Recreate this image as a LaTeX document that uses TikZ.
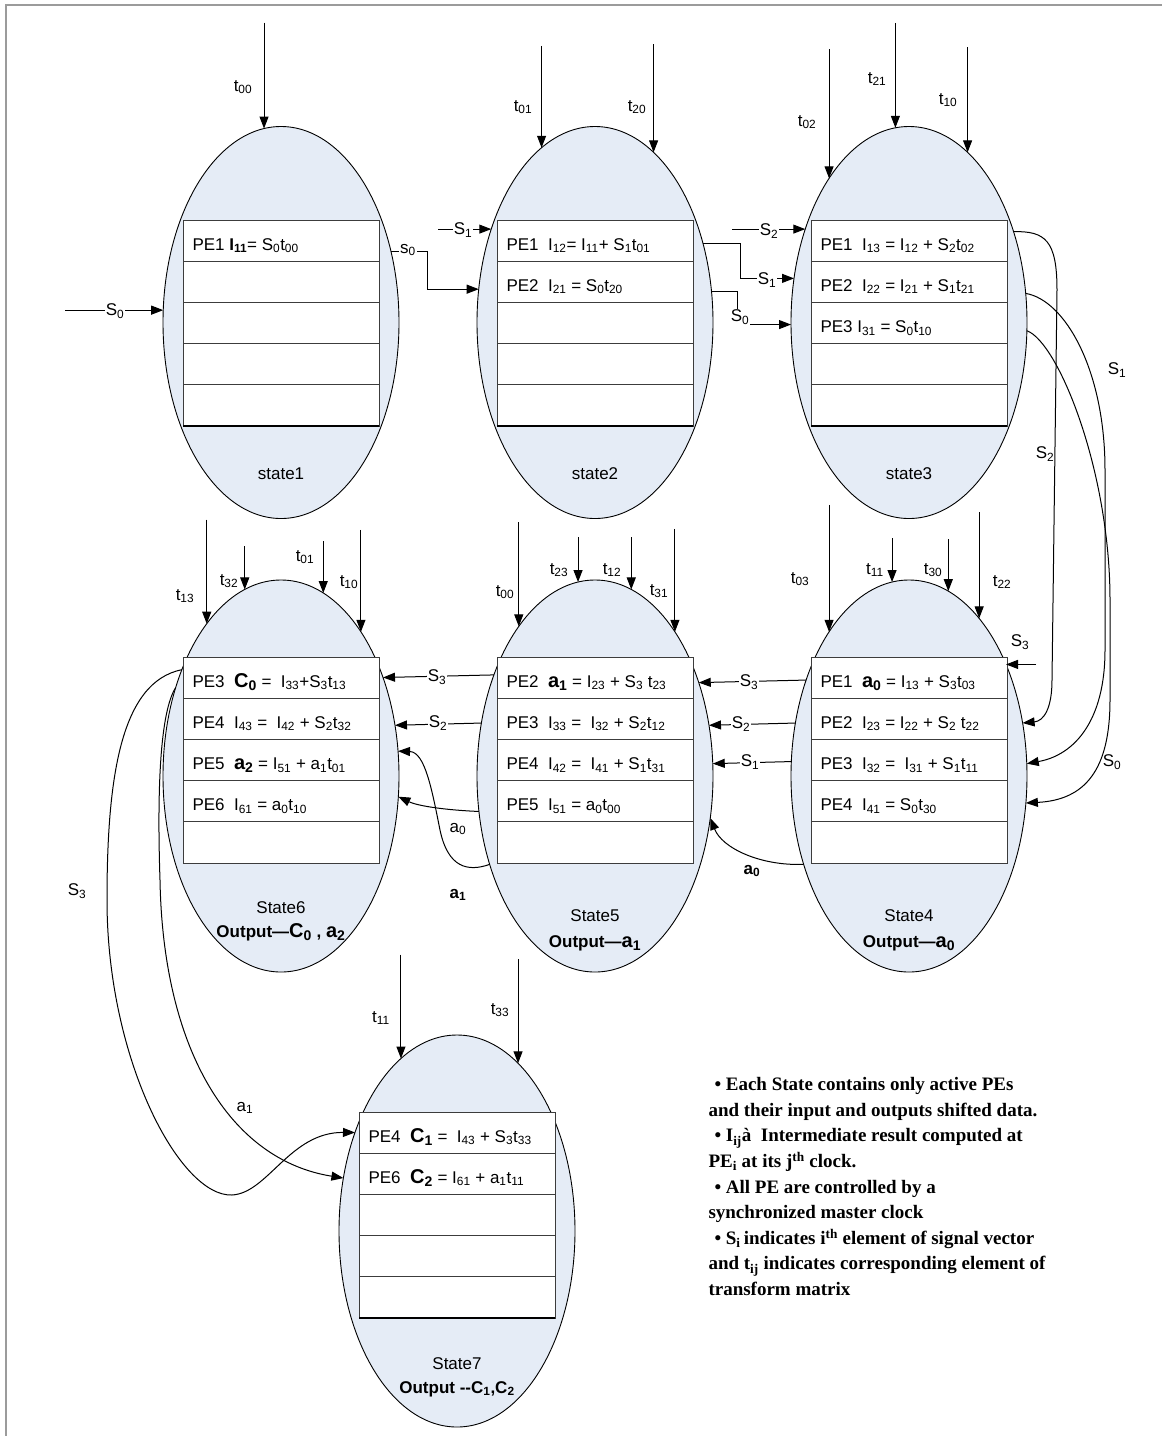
\documentclass[tikz,border=0pt]{standalone}
\usepackage{fontspec}
\setmainfont{Liberation Sans}
\newfontfamily\legendfont{Liberation Serif}
\usetikzlibrary{shapes.geometric,arrows.meta,calc}

\definecolor{ellfill}{RGB}{229,236,246}
\definecolor{rowline}{RGB}{60,60,60}
\definecolor{framegray}{RGB}{155,155,155}

\newcommand{\sbs}[1]{\textsubscript{#1}}
\newcommand{\bigbf}[1]{{\fontsize{20}{22}\selectfont\bfseries #1}}

\tikzset{every picture/.style={line width=1pt}}
\tikzset{
  stateell/.style={ellipse, draw=black, line width=0.9pt, fill=ellfill, minimum width=236pt, minimum height=392pt, inner sep=0pt, outer sep=0pt},
  pebox/.style={draw=rowline, fill=white, minimum width=196pt, minimum height=41.2pt, anchor=north west, inner sep=0pt, outer sep=0pt},
  petext/.style={anchor=west, inner xsep=9pt, inner ysep=0pt, text height=19pt, text depth=0pt, font=\fontsize{17}{20}\selectfont},
  lbl/.style={inner sep=1pt, font=\fontsize{17}{20}\selectfont},
  onl/.style={lbl, fill=white},
  statelbl/.style={anchor=base, inner sep=0pt, font=\fontsize{17}{20}\selectfont},
  arr/.style={-{Triangle[length=12pt,width=9pt]}},
  notes/.style={anchor=north west, inner sep=0pt, align=left, font=\legendfont\bfseries\fontsize{19}{25.6}\selectfont},
}

\begin{document}
\begin{tikzpicture}[x=1pt,y=1pt,yscale=-1]
\useasboundingbox (0,0) rectangle (1162,1436);
%Frame
\draw[framegray, line width=2pt] (6,1436) -- (6,5) -- (1162,5);

%Shape: Ellipse
\node[stateell] (st1) at (281,322.5) {};
\node[stateell] (st2) at (595,322.5) {};
\node[stateell] (st3) at (909,322.5) {};
\node[stateell] (st4) at (909,776) {};
\node[stateell] (st5) at (595,776) {};
\node[stateell] (st6) at (281,776) {};
\node[stateell] (st7) at (457,1231) {};

%Shape: Rectangle (PE rows)
\foreach \r in {1,...,5} \node[pebox] (s1r\r) at (183,{220+41.2*(\r-1)}) {};
\foreach \r in {1,...,5} \node[pebox] (s2r\r) at (497,{220+41.2*(\r-1)}) {};
\foreach \r in {1,...,5} \node[pebox] (s3r\r) at (811,{220+41.2*(\r-1)}) {};
\foreach \r in {1,...,5} \node[pebox] (s4r\r) at (811,{657+41.2*(\r-1)}) {};
\foreach \r in {1,...,5} \node[pebox] (s5r\r) at (497,{657+41.2*(\r-1)}) {};
\foreach \r in {1,...,5} \node[pebox] (s6r\r) at (183,{657+41.2*(\r-1)}) {};
\foreach \r in {1,...,5} \node[pebox] (s7r\r) at (359,{1112+41.2*(\r-1)}) {};
\draw[line width=2.4pt] (s1r5.south west) -- (s1r5.south east);
\draw[line width=2.4pt] (s2r5.south west) -- (s2r5.south east);
\draw[line width=2.4pt] (s3r5.south west) -- (s3r5.south east);
\draw[line width=2.4pt] (s7r5.south west) -- (s7r5.south east);

% Text Node
\node[petext] (pe11) at (s1r1.west) {PE1 \textbf{I\sbs{11}}= S\sbs{0}t\sbs{00}};
\node[petext] (pe21) at (s2r1.west) {PE1\ \ I\sbs{12}= I\sbs{11}+ S\sbs{1}t\sbs{01}};
\node[petext] (pe22) at (s2r2.west) {PE2\ \ I\sbs{21} = S\sbs{0}t\sbs{20}};
\node[petext] (pe31) at (s3r1.west) {PE1\ \ I\sbs{13} = I\sbs{12} + S\sbs{2}t\sbs{02}};
\node[petext] (pe32) at (s3r2.west) {PE2\ \ I\sbs{22} = I\sbs{21} + S\sbs{1}t\sbs{21}};
\node[petext] (pe33) at (s3r3.west) {PE3 I\sbs{31} = S\sbs{0}t\sbs{10}};
\node[petext] (pe41) at (s4r1.west) {PE1\ \ \bigbf{a\sbs{0}} = I\sbs{13} + S\sbs{3}t\sbs{03}};
\node[petext] (pe42) at (s4r2.west) {PE2\ \ I\sbs{23} = I\sbs{22} + S\sbs{2} t\sbs{22}};
\node[petext] (pe43) at (s4r3.west) {PE3\ \ I\sbs{32} =\ \ I\sbs{31} + S\sbs{1}t\sbs{11}};
\node[petext] (pe44) at (s4r4.west) {PE4\ \ I\sbs{41} = S\sbs{0}t\sbs{30}};
\node[petext] (pe51) at (s5r1.west) {PE2\ \ \bigbf{a\sbs{1}} = I\sbs{23} + S\sbs{3} t\sbs{23}};
\node[petext] (pe52) at (s5r2.west) {PE3\ \ I\sbs{33} =\ \ I\sbs{32} + S\sbs{2}t\sbs{12}};
\node[petext] (pe53) at (s5r3.west) {PE4\ \ I\sbs{42} =\ \ I\sbs{41} + S\sbs{1}t\sbs{31}};
\node[petext] (pe54) at (s5r4.west) {PE5\ \ I\sbs{51} = a\sbs{0}t\sbs{00}};
\node[petext] (pe61) at (s6r1.west) {PE3\ \ \bigbf{C\sbs{0}} =\ \ I\sbs{33}+S\sbs{3}t\sbs{13}};
\node[petext] (pe62) at (s6r2.west) {PE4\ \ I\sbs{43} =\ \ I\sbs{42} + S\sbs{2}t\sbs{32}};
\node[petext] (pe63) at (s6r3.west) {PE5\ \ \bigbf{a\sbs{2}} = I\sbs{51} + a\sbs{1}t\sbs{01}};
\node[petext] (pe64) at (s6r4.west) {PE6\ \ I\sbs{61} = a\sbs{0}t\sbs{10}};
\node[petext] (pe71) at (s7r1.west) {PE4\ \ \bigbf{C\sbs{1}} =\ \ I\sbs{43} + S\sbs{3}t\sbs{33}};
\node[petext] (pe72) at (s7r2.west) {PE6\ \ \bigbf{C\sbs{2}} = I\sbs{61} + a\sbs{1}t\sbs{11}};

% Text Node (state names)
\node[statelbl] (lb1) at (281,479) {state1};
\node[statelbl] (lb2) at (595,479) {state2};
\node[statelbl] (lb3) at (909,479) {state3};
\node[statelbl] (lb4) at (909,921) {State4};
\node[statelbl] (out4) at (909,947) {\textbf{Output---\bigbf{a\sbs{0}}}};
\node[statelbl] (lb5) at (595,921) {State5};
\node[statelbl] (out5) at (595,947) {\textbf{Output---\bigbf{a\sbs{1}}}};
\node[statelbl] (lb6) at (281,913) {State6};
\node[statelbl] (out6) at (281,937) {\textbf{Output---\bigbf{C\sbs{0}} , \bigbf{a\sbs{2}}}};
\node[statelbl] (lb7) at (457,1369) {State7};
\node[statelbl] (out7) at (457,1393) {\textbf{Output -{}-C\sbs{1},C\sbs{2}}};

%Straight Lines (state1)
\draw[arr] ($(st1.95)+(0,-106)$) -- (st1.95);
\node[lbl] (t00a) at (243,87) {t\sbs{00}};
\draw[arr] ($(st1.174.9)+(-98,0)$) -- (st1.174.9);
\node[onl] (s0a) at (115,311) {S\sbs{0}};
\draw[arr] (st1.33.9) -- ++(37,0) |- (st2.164.9);
\node[onl] (s0b) at (408,250) {s\sbs{0}};

%Straight Lines (state2)
\draw[arr] ($(st2.107.6)+(0,-102)$) -- (st2.107.6);
\draw[arr] ($(st2.71.2)+(0,-108)$) -- (st2.71.2);
\node[lbl] (t01a) at (523,107) {t\sbs{01}};
\node[lbl] (t20a) at (637,107) {t\sbs{20}};
\draw[arr] ($(st2.138.4)+(-53,0)$) -- (st2.138.4);
\node[onl] (s1a) at (463,230) {S\sbs{1}};
\draw[arr] (st2.36) -- ++(37,0) |- (st3.159.8);
\node[onl] (s1b) at (767,280) {S\sbs{1}};
\draw[arr] (st2.15.6) -- ++(26,0) |- (st3.181.7);
\node[onl] (s0c) at (740,317) {S\sbs{0}};

%Straight Lines (state3)
\draw[arr] ($(st3.138.4)+(-73,0)$) -- (st3.138.4);
\node[onl] (s2a) at (769,231) {S\sbs{2}};
\draw[arr] ($(st3.119.6)+(0,-129)$) -- (st3.119.6);
\draw[arr] ($(st3.94.7)+(0,-105)$) -- (st3.94.7);
\draw[arr] ($(st3.71.2)+(0,-105)$) -- (st3.71.2);
\node[lbl] (t02a) at (807,122) {t\sbs{02}};
\node[lbl] (t21a) at (877,79) {t\sbs{21}};
\node[lbl] (t10a) at (948,100) {t\sbs{10}};

%Curve Lines (state3 to state4)
\draw[arr] (st3.41.2) .. controls (1045,231) and (1057,240) .. (1057,290) -- (1052,680) .. controls (1052,708) and (1044,721) .. (st4.25.5);
\draw[arr] (st3.14.2) .. controls (1065,300) and (1105,370) .. (1105,470) -- (1105,650) .. controls (1105,720) and (1075,755) .. (st4.6.3);
\draw[arr] (st3.356.8) .. controls (1058,342) and (1110,470) .. (1110,600) -- (1110,700) .. controls (1110,770) and (1085,800) .. (st4.347.9);
\node[lbl] (s1c) at (1117,370) {S\sbs{1}};
\node[lbl] (s2c) at (1045,454) {S\sbs{2}};
\node[lbl] (s0d) at (1112,762) {S\sbs{0}};

%Straight Lines (state4)
\draw[arr] ($(st4.49.5)+(30,0)$) -- (st4.49.5);
\node[lbl] (s3a) at (1020,642) {S\sbs{3}};
\draw[arr] ($(st4.119.6)+(0,-127)$) -- (st4.119.6);
\draw[arr] ($(st4.95.9)+(0,-44)$) -- (st4.95.9);
\draw[arr] ($(st4.78.1)+(0,-52)$) -- (st4.78.1);
\draw[arr] ($(st4.66.5)+(0,-106)$) -- (st4.66.5);
\node[lbl] (t03a) at (800,579) {t\sbs{03}};
\node[lbl] (t11a) at (875,570) {t\sbs{11}};
\node[lbl] (t30a) at (933,570) {t\sbs{30}};
\node[lbl] (t22a) at (1002,582) {t\sbs{22}};

%Straight Lines (state4 to state5)
\draw[arr] (st4.137.8) -- (st5.42.2);
\draw[arr] (st4.155.9) -- (st5.24.1);
\draw[arr] (st4.173.7) -- (st5.6.3);
\node[onl] (s3b) at (749,682) {S\sbs{3}};
\node[onl] (s2b) at (741,724) {S\sbs{2}};
\node[onl] (s1d) at (750,762) {S\sbs{1}};
\draw[arr] (st4.220.3) .. controls (760,866) and (722,848) .. (st5.340.4);
\node[lbl] (a0a) at (752,871) {\textbf{a\sbs{0}}};

%Straight Lines (state5)
\draw[arr] ($(st5.117.4)+(0,-104)$) -- (st5.117.4);
\draw[arr] ($(st5.95.6)+(0,-45)$) -- (st5.95.6);
\draw[arr] ($(st5.79.4)+(0,-52)$) -- (st5.79.4);
\draw[arr] ($(st5.61.0)+(0,-103)$) -- (st5.61.0);
\node[lbl] (t00b) at (505,592) {t\sbs{00}};
\node[lbl] (t23a) at (559,570) {t\sbs{23}};
\node[lbl] (t12a) at (612,570) {t\sbs{12}};
\node[lbl] (t31a) at (659,591) {t\sbs{31}};

%Straight Lines (state5 to state6)
\draw[arr] (st5.135.8) -- (st6.44.2);
\draw[arr] (st5.155.4) -- (st6.24.6);
\node[onl] (s3c) at (437,677) {S\sbs{3}};
\node[onl] (s2d) at (438,723) {S\sbs{2}};
\draw[arr] (st5.197.2) .. controls (445,810) and (418,806) .. (st6.350.8);
\draw[arr] (st5.220.65) .. controls (468,872) and (448,868) .. (440,830) .. controls (432,790) and (425,752) .. (st6.12.5);
\node[lbl] (a0b) at (458,829) {a\sbs{0}};
\node[lbl] (a1a) at (458,895) {\textbf{a\sbs{1}}};

%Straight Lines (state6)
\draw[arr] ($(st6.116.9)+(0,-104)$) -- (st6.116.9);
\draw[arr] ($(st6.101.2)+(0,-43)$) -- (st6.101.2);
\draw[arr] ($(st6.77.8)+(0,-52)$) -- (st6.77.8);
\draw[arr] ($(st6.61.5)+(0,-102)$) -- (st6.61.5);
\node[lbl] (t13a) at (185,596) {t\sbs{13}};
\node[lbl] (t32a) at (229,581) {t\sbs{32}};
\node[lbl] (t01b) at (305,557) {t\sbs{01}};
\node[lbl] (t10b) at (349,582) {t\sbs{10}};

%Curve Lines (state6 to state7)
\draw[arr] (st6.133.9) .. controls (120,682) and (107,780) .. (107,900) .. controls (107,1060) and (180,1197) .. (232,1195) .. controls (268,1193) and (290,1132) .. (st7.136.6);
\draw[arr] (st6.140) .. controls (160,712) and (157,790) .. (160,880) .. controls (163,1050) and (230,1160) .. (st7.155.9);
\node[lbl] (s3d) at (77,891) {S\sbs{3}};
\node[lbl] (a1b) at (245,1108) {a\sbs{1}};

%Straight Lines (state7)
\draw[arr] ($(st7.108.4)+(0,-104)$) -- (st7.108.4);
\draw[arr] ($(st7.70.4)+(0,-104)$) -- (st7.70.4);
\node[lbl] (t11b) at (381,1018) {t\sbs{11}};
\node[lbl] (t33a) at (500,1010) {t\sbs{33}};

% Text Node (notes)
\node[notes] (notes) at (708,1077) {\hspace{6pt}• Each State contains only active PEs\\
and their input and outputs shifted data.\\
\hspace{6pt}• I\textsubscript{ij}à\ \ Intermediate result computed at\\
PE\textsubscript{i} at its j\textsuperscript{th} clock.\\
\hspace{6pt}• All PE are controlled by a\\
synchronized master clock\\
\hspace{6pt}• S\textsubscript{i}\,indicates i\textsuperscript{th} element of signal vector\\
and t\textsubscript{ij} indicates corresponding element of\\
transform matrix};

\end{tikzpicture}
\end{document}
